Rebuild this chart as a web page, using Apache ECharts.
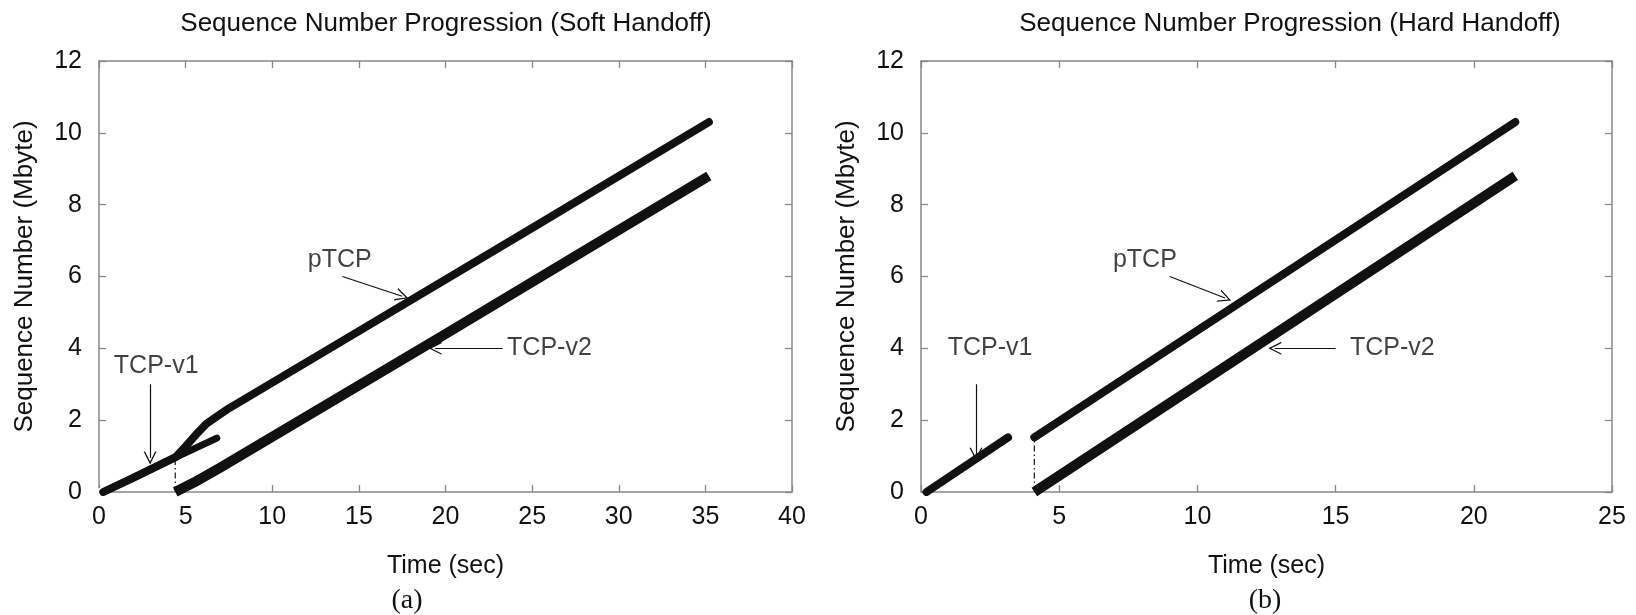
<!DOCTYPE html>
<html>
<head>
<meta charset="utf-8">
<script src="https://cdn.jsdelivr.net/npm/echarts@6/dist/echarts.min.js"></script>
<style>
  html, body { margin: 0; background: #fff; }
  #chart { width: 1636px; height: 615px; }
</style>
</head>
<body>
<div id="chart"></div>
<script>
// ---- (a) soft handoff ----
var softXTicks = [0, 5, 10, 15, 20, 25, 30, 35, 40];
var softV1 = [[0.25, 0], [2, 0.4], [4.45, 0.97], [6.8, 1.5]];
var softPtcp = [[0.25, 0], [2, 0.4], [4.45, 0.98], [5.0, 1.27], [5.6, 1.6], [6.2, 1.9], [6.8, 2.1],
                [7.5, 2.33], [15, 4.48], [25, 7.35], [35.2, 10.3]];
var softV2 = [[4.4, 0], [5.5, 0.27], [7, 0.68], [20, 4.4], [35.2, 8.8]];
var softSwitch = [[4.4, 0], [4.4, 0.98]];
var softOrigin = [[0, 0]];
var softLabels = [['pTCP', 13.9, 6.45], ['TCP-v2', 26.0, 4.0], ['TCP-v1', 3.3, 3.5]];
var softArrows = [[[14.05, 6.0], [17.5, 5.45]], [[23.3, 4.0], [19.4, 4.0]], [[2.95, 3.0], [2.95, 0.95]]];

// ---- (b) hard handoff ----
var hardXTicks = [0, 5, 10, 15, 20, 25];
var hardV1 = [[0.2, 0], [3.15, 1.52]];
var hardPtcp = [[4.1, 1.52], [21.5, 10.3]];
var hardV2 = [[4.1, 0], [21.5, 8.8]];
var hardSwitch = [[4.1, 0], [4.1, 1.52]];
var hardLabels = [['pTCP', 8.1, 6.45], ['TCP-v2', 17.05, 4.0], ['TCP-v1', 2.5, 4.0]];
var hardArrows = [[[9.0, 6.0], [11.0, 5.4]], [[15.0, 4.0], [12.8, 4.0]], [[1.99, 3.0], [1.99, 1.05]]];

var yTicks = [0, 2, 4, 6, 8, 10, 12];

var FONT = '"Liberation Sans", Arial, sans-serif';
var AXIS_GRAY = '#888';
var INK = '#111';
var chevron = 'path://M5,0 L10,14 L8.9,14 L5,3 L1.1,14 L0,14 Z';

function xAxes(ticks, gridIndex) {
    var base = {
        gridIndex: gridIndex, type: 'value',
        min: ticks[0], max: ticks[ticks.length - 1], interval: ticks[1] - ticks[0],
        splitLine: { show: false },
        axisLine: { onZero: false, lineStyle: { color: AXIS_GRAY, width: 1.5 } },
        axisTick: { inside: true, length: 7, lineStyle: { color: AXIS_GRAY, width: 1.3 } }
    };
    var bottom = Object.assign({}, base, {
        position: 'bottom',
        name: 'Time (sec)', nameLocation: 'middle', nameGap: 62,
        nameTextStyle: { fontFamily: FONT, fontSize: 25, color: INK },
        axisLabel: { fontFamily: FONT, fontSize: 25, color: INK, margin: 13 }
    });
    var top = Object.assign({}, base, { position: 'top', axisLabel: { show: false } });
    return [bottom, top];
}

function yAxes(gridIndex) {
    var base = {
        gridIndex: gridIndex, type: 'value',
        min: yTicks[0], max: yTicks[yTicks.length - 1], interval: yTicks[1] - yTicks[0],
        splitLine: { show: false },
        axisLine: { onZero: false, lineStyle: { color: AXIS_GRAY, width: 1.5 } },
        axisTick: { inside: true, length: 7, lineStyle: { color: AXIS_GRAY, width: 1.3 } }
    };
    var left = Object.assign({}, base, {
        position: 'left',
        name: 'Sequence Number (Mbyte)', nameLocation: 'middle', nameGap: 61,
        nameTextStyle: { fontFamily: FONT, fontSize: 26, color: INK },
        axisLabel: { fontFamily: FONT, fontSize: 25, color: INK, margin: 17 }
    });
    var right = Object.assign({}, base, { position: 'right', axisLabel: { show: false } });
    return [left, right];
}

function curve(data, xi, yi, width, cap) {
    return {
        type: 'line', xAxisIndex: xi, yAxisIndex: yi, data: data,
        showSymbol: false, symbol: 'none', silent: true, animation: false,
        lineStyle: { color: INK, width: width, cap: cap || 'round', join: 'round' }
    };
}

function dashDot(data, xi, yi) {
    return {
        type: 'line', xAxisIndex: xi, yAxisIndex: yi, data: data,
        symbol: 'none', silent: true, animation: false,
        lineStyle: { color: INK, width: 1.2, type: [6, 3, 1.5, 3] }
    };
}

function notes(labels, xi, yi) {
    return {
        type: 'scatter', xAxisIndex: xi, yAxisIndex: yi, symbolSize: 1, silent: true, animation: false,
        itemStyle: { color: 'transparent' },
        data: labels.map(function (l) { return { name: l[0], value: [l[1], l[2]] }; }),
        label: {
            show: true, position: 'inside', formatter: '{b}',
            fontFamily: FONT, fontSize: 25, color: INK
        }
    };
}

function arrows(list, xi, yi) {
    return {
        type: 'lines', coordinateSystem: 'cartesian2d', xAxisIndex: xi, yAxisIndex: yi,
        silent: true, animation: false,
        symbol: ['none', chevron], symbolSize: [9, 13],
        lineStyle: { color: INK, width: 1.2, opacity: 1, curveness: 0 },
        data: list.map(function (a) { return { coords: a }; })
    };
}

var chart = echarts.init(document.getElementById('chart'));
chart.setOption({
    backgroundColor: '#fff',
    animation: false,
    grid: [
        { left: 99, top: 61, width: 693, height: 431 },
        { left: 921, top: 61, width: 691, height: 431 }
    ],
    xAxis: xAxes(softXTicks, 0).concat(xAxes(hardXTicks, 1)),
    yAxis: yAxes(0).concat(yAxes(1)),
    graphic: [
        { type: 'text', x: 446, y: 24, style: { text: 'Sequence Number Progression (Soft Handoff)', font: '26px ' + FONT, fill: INK, textAlign: 'center', textVerticalAlign: 'middle' } },
        { type: 'text', x: 1290, y: 24, style: { text: 'Sequence Number Progression (Hard Handoff)', font: '26px ' + FONT, fill: INK, textAlign: 'center', textVerticalAlign: 'middle' } },
        { type: 'text', x: 407, y: 601, style: { text: '(a)', font: '28px "Liberation Serif", "Times New Roman", serif', fill: INK, textAlign: 'center', textVerticalAlign: 'middle' } },
        { type: 'text', x: 1265, y: 601, style: { text: '(b)', font: '28px "Liberation Serif", "Times New Roman", serif', fill: INK, textAlign: 'center', textVerticalAlign: 'middle' } }
    ],
    series: [
        // (a)
        dashDot(softSwitch, 0, 0),
        curve(softV1, 0, 0, 7),
        curve(softPtcp, 0, 0, 8),
        curve(softV2, 0, 0, 10, 'butt'),
        {
            type: 'scatter', xAxisIndex: 0, yAxisIndex: 0, data: softOrigin, silent: true,
            symbol: 'emptyCircle', symbolSize: 6,
            itemStyle: { color: '#fff', borderColor: INK, borderWidth: 1 }
        },
        notes(softLabels, 0, 0),
        arrows(softArrows, 0, 0),
        // (b)
        dashDot(hardSwitch, 2, 2),
        curve(hardV1, 2, 2, 8),
        curve(hardPtcp, 2, 2, 8),
        curve(hardV2, 2, 2, 10, 'butt'),
        notes(hardLabels, 2, 2),
        arrows(hardArrows, 2, 2)
    ]
});
</script>
</body>
</html>
